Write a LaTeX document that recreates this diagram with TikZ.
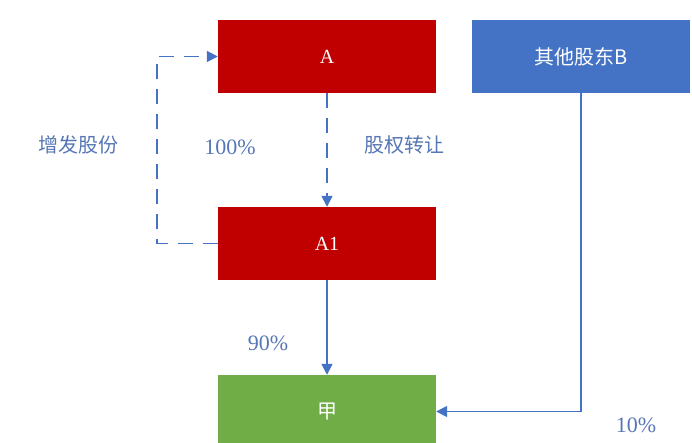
\documentclass[tikz,border=0pt]{standalone}
\usepackage{fontspec}
\setmainfont{Liberation Serif}
\newfontfamily\cjk{Noto Sans CJK SC}
\usetikzlibrary{arrows.meta}
\definecolor{boxred}{HTML}{C00000}
\definecolor{boxblue}{HTML}{4472C4}
\definecolor{boxgreen}{HTML}{70AD47}
\definecolor{linkblue}{HTML}{4472C4}
\definecolor{labelblue}{HTML}{5676B4}
\begin{document}
\begin{tikzpicture}[x=1pt,y=-1pt,>={Triangle[length=11pt,width=11pt]},font=\fontsize{20}{22}\selectfont,
	box/.style={minimum width=218pt,minimum height=73pt,inner sep=0pt,text=white},
	link/.style={->,color=linkblue,line width=1.7pt},
	dashlink/.style={link,dash pattern=on 15pt off 10pt},
	lbl/.style={color=labelblue,font=\fontsize{22}{24}\selectfont},
	cjklbl/.style={lbl,font=\cjk\fontsize{20}{22}\selectfont}]
			\useasboundingbox (0,0) rectangle (692,443);
			\clip (0,0) rectangle (692,443);
			\node[box,fill=boxred] (A) at (327,56.5) {A};
			\node[box,fill=boxred] (A1) at (327,243.5) {A1};
			\node[box,fill=boxgreen] (jia) at (327,411.5) {\cjk 甲};
			\node[box,fill=boxblue] (B) at (581,56.5) {\cjk 其他股东B};
			\draw[dashlink] (A.south) -- (A1.north);
			\draw[dashlink] (A1.west) -- (157,243.5) -- (157,56.5) -- (A.west);
			\draw[link] (A1.south) -- (jia.north);
			\draw[link] (B.south) |- (jia.east);
			\node[cjklbl] (zf) at (78,145) {增发股份};
			\node[lbl] (p100) at (230,147) {100\%};
			\node[cjklbl] (zr) at (404,145) {股权转让};
			\node[lbl] (p90) at (268,343) {90\%};
			\node[lbl] (p10) at (636,425) {10\%};
	\end{tikzpicture}
\end{document}
